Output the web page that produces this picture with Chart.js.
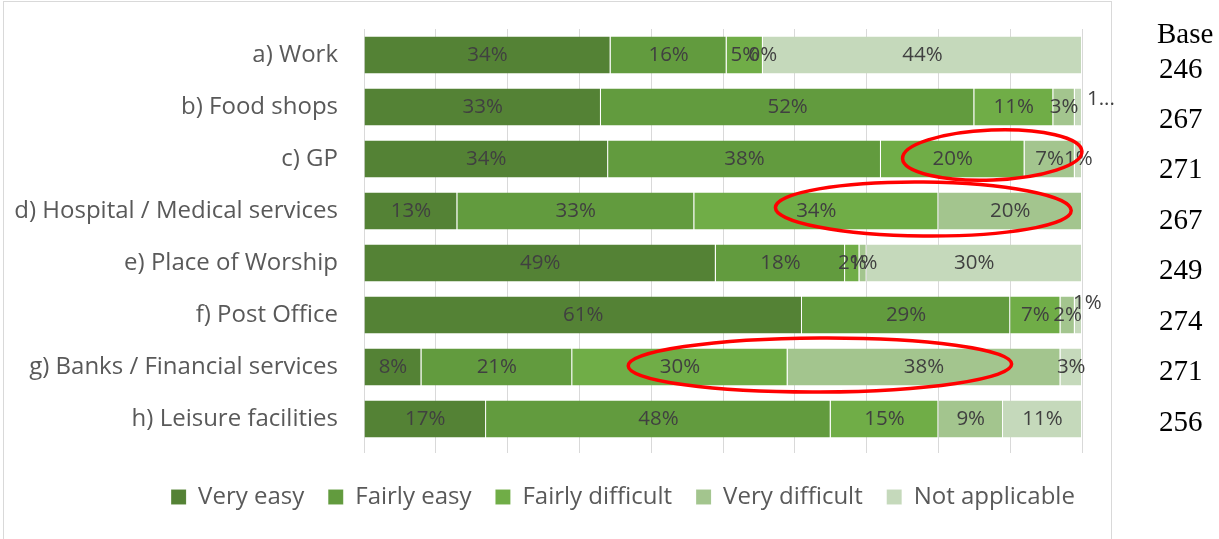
<!DOCTYPE html>
<html>
<head>
<meta charset="utf-8">
<script src="https://cdn.jsdelivr.net/npm/chart.js@4.4.1/dist/chart.umd.min.js"></script>
<style>
  html, body { margin: 0; padding: 0; background: #fff; }
  #wrap { position: relative; width: 1219px; height: 539px; overflow: hidden; }
</style>
</head>
<body>
<div id="wrap"><canvas id="accessChart" width="1219" height="539"></canvas></div>
<script>
// Categories and the answer shares (%) per row, as printed on the bars
const categories = [
  "a) Work",
  "b) Food shops",
  "c) GP",
  "d) Hospital / Medical services",
  "e) Place of Worship",
  "f) Post Office",
  "g) Banks / Financial services",
  "h) Leisure facilities",
];
const seriesNames = ["Very easy", "Fairly easy", "Fairly difficult", "Very difficult", "Not applicable"];
const veryEasy = [34, 33, 34, 13, 49, 61, 8, 17];
const fairlyEasy = [16, 52, 38, 33, 18, 29, 21, 48];
const fairlyDifficult = [5, 11, 20, 34, 2, 7, 30, 15];
const veryDifficult = [0, 3, 7, 20, 1, 2, 38, 9];
const notApplicable = [44, 1, 1, null, 30, 1, 3, 11];
const baseCounts = [246, 267, 271, 267, 249, 274, 271, 256];

const seriesColors = ["#548235", "#629b3e", "#70ad47", "#a3c58e", "#c5d9bb"];

// Labels that Excel pushed outside the bar end
const labelShifts = [
  { row: 1, series: 4, text: "1...", dx: 5, dy: -8 },
  { row: 5, series: 4, text: "1%", dx: -9, dy: -12 },
];

// Red ellipses drawn over the chart (centre and half width in % of axis)
const highlights = [
  { row: 2, centre: 87.5, halfWidth: 12.5, halfHeight: 25, dy: -4, tilt: -0.04 },
  { row: 3, centre: 77.9, halfWidth: 20.6, halfHeight: 27, dy: -2, tilt: 0.01 },
  { row: 6, centre: 63.5, halfWidth: 26.7, halfHeight: 27, dy: -2, tilt: -0.005 },
];

const allSeries = [veryEasy, fairlyEasy, fairlyDifficult, veryDifficult, notApplicable];

// 100% stacked: scale every row to its own total
const rowTotals = categories.map((_, i) =>
  allSeries.reduce((sum, s) => sum + (s[i] || 0), 0)
);

const datasets = allSeries.map((values, d) => ({
  label: seriesNames[d],
  data: values.map((v, i) => (v == null ? null : (v / rowTotals[i]) * 100)),
  labelValues: values,
  backgroundColor: seriesColors[d],
  borderColor: "rgba(255,255,255,0.35)",
  borderWidth: { top: 0, bottom: 0, left: 0, right: 1 },
  borderSkipped: false,
  barPercentage: 0.71,
  categoryPercentage: 1,
}));

// Percent labels inside the segments
const segmentLabels = {
  id: "segmentLabels",
  afterDatasetsDraw(chart) {
    const { ctx } = chart;
    ctx.save();
    ctx.font = '20.5px "Open Sans"';
    ctx.fillStyle = "#404040";
    ctx.textBaseline = "middle";
    chart.data.datasets.forEach((ds, d) => {
      chart.getDatasetMeta(d).data.forEach((bar, i) => {
        const raw = ds.labelValues[i];
        if (raw == null) return;
        const shift = labelShifts.find(s => s.row === i && s.series === d);
        if (shift) {
          ctx.textAlign = "left";
          ctx.fillText(shift.text, bar.x + shift.dx, bar.y + shift.dy);
        } else {
          ctx.textAlign = "center";
          ctx.fillText(raw + "%", (bar.x + bar.base) / 2, bar.y);
        }
      });
    });
    ctx.restore();
  },
};

// Legend sits a little right of the canvas centre in the original
const legendShift = {
  id: "legendShift",
  afterLayout(chart) {
    chart.legend.left += 82;
    chart.legend.right += 82;
  },
};

// Chart border, base column and red ellipses
const extras = {
  id: "extras",
  beforeDraw(chart) {
    const { ctx } = chart;
    ctx.save();
    ctx.strokeStyle = "#d9d9d9";
    ctx.lineWidth = 1;
    ctx.strokeRect(3.5, 1.5, 1108, 600);
    ctx.restore();
  },
  afterDraw(chart) {
    const { ctx } = chart;
    const xs = chart.scales.x;
    const ys = chart.scales.y;
    const step = (ys.getPixelForValue(1) - ys.getPixelForValue(0)) * 0.97;
    ctx.save();
    ctx.fillStyle = "#000";
    ctx.font = '29px "Liberation Serif"';
    ctx.textAlign = "left";
    ctx.textBaseline = "middle";
    ctx.fillText("Base", 1157, ys.getPixelForValue(0) - 20);
    baseCounts.forEach((n, i) => {
      ctx.fillText(String(n), 1159, ys.getPixelForValue(0) + 15 + i * step);
    });

    ctx.strokeStyle = "#ff0000";
    ctx.lineWidth = 3.5;
    highlights.forEach(h => {
      const cx = xs.getPixelForValue(h.centre);
      const rx = xs.getPixelForValue(h.centre + h.halfWidth) - cx;
      const cy = ys.getPixelForValue(h.row) + h.dy;
      ctx.beginPath();
      ctx.ellipse(cx, cy, rx, h.halfHeight, h.tilt, 0, Math.PI * 2);
      ctx.stroke();
    });
    ctx.restore();
  },
};

Chart.defaults.font.family = '"Open Sans"';

new Chart(document.getElementById("accessChart"), {
  type: "bar",
  data: { labels: categories, datasets },
  plugins: [segmentLabels, legendShift, extras],
  options: {
    indexAxis: "y",
    responsive: false,
    animation: false,
    layout: { padding: { top: 29, right: 137, left: 0, bottom: 20 } },
    scales: {
      x: {
        stacked: true,
        min: 0,
        max: 100,
        ticks: { display: false, stepSize: 10 },
        grid: { color: "#d9d9d9", tickLength: 8, drawTicks: true },
        border: { display: false },
        afterFit: s => { s.height = 16; },
      },
      y: {
        stacked: true,
        ticks: { color: "#595959", font: { size: 24 }, padding: 26 },
        grid: { display: false, drawTicks: false },
        border: { display: true, color: "#d9d9d9" },
        afterFit: s => {
          s.width = 364;
          s.paddingTop = 0;
          s.paddingBottom = 0;
        },
      },
    },
    plugins: {
      legend: {
        position: "bottom",
        labels: {
          color: "#595959",
          font: { size: 24 },
          boxWidth: 15,
          boxHeight: 15,
          padding: 24,
        },
      },
      tooltip: { enabled: false },
    },
  },
});
</script>
</body>
</html>
